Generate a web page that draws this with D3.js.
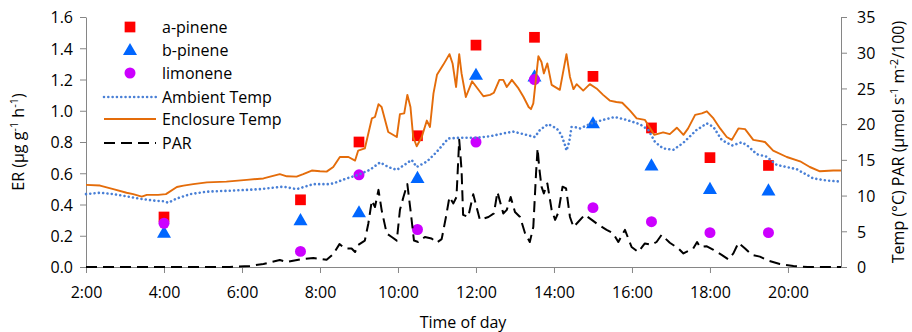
<!DOCTYPE html>
<html>
<head>
<meta charset="utf-8">
<style>
body { margin: 0; background: #fff; }
svg text { font-family: "Open Sans", sans-serif; font-size: 16px; fill: #000; }
</style>
</head>
<body>
<svg width="912" height="332"></svg>
<script src="https://d3js.org/d3.v7.min.js"></script>
<script>
// sampling times (hours) and emission rates
var sampleHours = [4, 7.5, 9, 10.5, 12, 13.5, 15, 16.5, 18, 19.5];
var aPinene  = [0.32, 0.43, 0.80, 0.84, 1.42, 1.47, 1.22, 0.89, 0.70, 0.65];
var bPinene  = [0.22, 0.30, 0.35, 0.57, 1.23, 1.22, 0.92, 0.65, 0.50, 0.49];
var limonene = [0.28, 0.10, 0.59, 0.24, 0.80, 1.20, 0.38, 0.29, 0.22, 0.22];

// ambient temp (°C)
var ambHours = [2.0,2.36,2.7,3.04,3.38,3.73,3.98,4.11,4.33,4.67,5.1,5.78,6.46,7.06,7.4,7.83,8.21,8.34,8.68,8.98,9.28,9.54,9.75,9.97,10.22,10.35,10.48,10.74,10.99,11.29,11.59,12.02,12.36,12.7,12.96,13.22,13.51,13.64,13.85,14.07,14.19,14.28,14.32,14.39,14.45,14.53,14.67,15.0,15.26,15.56,15.86,16.2,16.42,16.59,16.8,17.06,17.32,17.66,17.92,18.09,18.3,18.56,18.81,18.94,19.2,19.45,19.71,20.22,20.65,21.0,21.36];
var ambTemp  = [10.2,10.4,10.2,9.9,9.55,9.3,9.2,9.0,9.6,10.2,10.55,10.7,10.9,11.25,10.9,11.6,11.6,11.7,12.4,12.9,13.6,14.65,14.0,13.6,14.5,15.0,14.0,14.75,16.1,18.0,18.1,18.1,18.3,18.7,18.95,18.6,18.2,19.2,20.0,19.4,18.5,17.1,16.3,17.5,19.6,19.6,19.4,20.2,20.6,21.0,20.6,20.0,19.2,17.5,16.6,16.4,17.4,19.2,20.1,19.6,17.8,17.0,17.45,17.1,15.8,15.45,14.3,13.7,12.4,12.1,11.95];

// enclosure temp (°C)
var encHours = [2.0,2.36,2.7,3.04,3.21,3.43,3.56,3.85,4.05,4.33,4.5,4.75,5.1,5.6,6.12,6.55,6.97,7.15,7.4,7.57,7.79,8.0,8.17,8.34,8.51,8.73,8.9,8.98,9.15,9.33,9.41,9.5,9.58,9.75,9.97,10.05,10.16,10.24,10.32,10.39,10.48,10.61,10.74,10.82,10.91,11.0,11.16,11.32,11.4,11.49,11.57,11.63,11.74,11.9,12.19,12.36,12.46,12.6,12.7,12.79,12.92,13.09,13.22,13.35,13.41,13.47,13.6,13.68,13.74,13.83,13.94,14.15,14.32,14.41,14.5,14.58,14.75,14.92,15.09,15.26,15.43,15.6,15.75,15.95,16.12,16.33,16.57,16.8,16.97,17.15,17.32,17.44,17.62,17.79,17.92,18.09,18.26,18.43,18.56,18.73,18.9,19.11,19.41,19.62,19.97,20.31,20.56,20.82,21.16,21.36];
var encTemp  = [11.5,11.4,10.9,10.4,10.2,9.85,10.1,10.1,10.2,11.2,11.4,11.6,11.85,11.95,12.2,12.4,13.0,12.7,12.65,13.0,13.5,13.4,13.35,14.0,15.4,15.4,14.9,16.3,16.6,20.8,21.0,22.8,22.4,18.9,18.2,21.4,21.5,24.1,22.4,18.2,16.9,18.2,20.5,19.6,24.3,26.9,28.3,29.8,28.5,25.2,29.8,27.1,23.8,26.0,23.9,24.1,24.4,26.2,26.2,25.2,26.2,25.0,23.8,22.4,22.1,22.9,29.5,28.7,27.1,28.5,25.5,24.8,29.8,26.6,24.9,25.6,24.7,25.6,25.0,24.1,23.3,23.1,23.0,21.9,20.8,20.6,18.5,18.85,18.6,19.5,18.5,19.4,21.3,21.5,21.8,20.8,19.4,18.2,17.8,19.4,19.3,17.8,17.5,16.3,15.4,14.8,14.0,13.4,13.5,13.5];

// PAR (µmol s-1 m-2 / 100)
var parHours = [2.0,5.69,6.2,6.55,6.97,7.15,7.49,7.83,8.17,8.34,8.5,8.64,8.81,8.9,8.98,9.15,9.24,9.33,9.41,9.5,9.58,9.71,9.84,9.97,10.05,10.14,10.24,10.32,10.41,10.52,10.69,10.86,10.99,11.12,11.23,11.32,11.42,11.5,11.57,11.63,11.67,11.8,11.93,12.1,12.32,12.46,12.55,12.7,12.79,12.89,13.0,13.13,13.26,13.38,13.47,13.54,13.58,13.62,13.68,13.74,13.83,13.94,14.03,14.11,14.22,14.31,14.41,14.5,14.62,14.79,14.97,15.14,15.35,15.52,15.65,15.82,15.99,16.16,16.33,16.5,16.63,16.76,16.97,17.19,17.32,17.57,17.67,17.74,17.92,18.09,18.3,18.47,18.6,18.73,18.9,19.07,19.28,19.49,19.79,20.14,20.5,21.36];
var parVals  = [0,0,0.14,0.42,0.98,0.7,1.07,1.25,1.0,1.8,3.2,2.6,2.6,2.1,3.1,3.7,6.1,9.3,8.4,10.8,8.0,4.7,4.2,3.7,8.0,9.8,11.6,8.0,3.7,3.5,4.2,4.0,3.4,3.9,7.0,9.8,8.9,9.8,17.8,13.6,7.3,7.0,10.2,6.6,7.0,7.5,10.5,7.5,8.0,9.8,7.7,7.0,4.7,3.5,5.6,13.1,16.6,14.0,11.25,10.3,11.7,8.0,6.6,7.6,11.25,11.0,7.0,5.6,6.3,7.3,6.6,5.9,5.2,4.7,3.5,5.2,2.8,2.1,3.3,3.1,3.5,4.5,3.4,2.6,1.9,2.6,3.5,2.8,2.9,2.4,1.7,1.07,1.9,3.4,2.6,1.7,1.45,0.9,0.42,0.14,0,0];

var xTicks = [2, 4, 6, 8, 10, 12, 14, 16, 18, 20];
var erTicks = [0, 0.2, 0.4, 0.6, 0.8, 1.0, 1.2, 1.4, 1.6];
var tempTicks = [0, 5, 10, 15, 20, 25, 30, 35];

var svg = d3.select('svg');
var plotL = 86, plotR = 841, plotT = 17, plotB = 267;
var axisColor = '#868686';

var x = d3.scaleLinear().domain([2, 21.36]).range([plotL, plotR]);
var yL = d3.scaleLinear().domain([0, 1.6]).range([plotB, plotT]);
var yR = d3.scaleLinear().domain([0, 35]).range([plotB, plotT]);

// axes
var xAxis = svg.append('g').attr('transform', 'translate(0,' + plotB + ')')
  .call(d3.axisBottom(x).tickValues(xTicks).tickSize(6).tickSizeOuter(0)
    .tickFormat(function(d) { return d + ':00'; }));
var lAxis = svg.append('g').attr('transform', 'translate(' + plotL + ',0)')
  .call(d3.axisLeft(yL).tickValues(erTicks).tickSize(6).tickSizeOuter(0)
    .tickFormat(d3.format('.1f')));
var rAxis = svg.append('g').attr('transform', 'translate(' + plotR + ',0)')
  .call(d3.axisRight(yR).tickValues(tempTicks).tickSize(6).tickSizeOuter(0));

[xAxis, lAxis, rAxis].forEach(function(g) {
  g.attr('font-size', null).attr('font-family', null);
  g.select('.domain').attr('stroke', axisColor);
  g.selectAll('.tick line').attr('stroke', axisColor);
  g.selectAll('text').attr('fill', '#000');
});
xAxis.selectAll('text').attr('dy', null).attr('y', 31);
lAxis.selectAll('text').attr('x', -13).attr('dy', '0.36em');
rAxis.selectAll('text').attr('x', 16).attr('dy', '0.36em');

// markers
var markerData = [
  { name: 'a-pinene', vals: aPinene, color: '#ff0000', sym: d3.symbolSquare, size: 115 },
  { name: 'b-pinene', vals: bPinene, color: '#0066ff', sym: d3.symbolTriangle, size: 85 },
  { name: 'limonene', vals: limonene, color: '#cc00ff', sym: d3.symbolCircle, size: 95 }
];
markerData.forEach(function(m) {
  svg.append('g').selectAll('path')
    .data(m.vals)
    .enter().append('path')
    .attr('d', d3.symbol().type(m.sym).size(m.size))
    .attr('transform', function(d, i) {
      var dy = m.sym === d3.symbolTriangle ? 1 : 0;
      return 'translate(' + x(sampleHours[i]) + ',' + (yL(d) + dy) + ')';
    })
    .attr('fill', m.color);
});

// lines on secondary axis
var lineData = [
  { name: 'Ambient Temp', hours: ambHours, vals: ambTemp, color: '#4a80d6', width: 2.6, dash: '0.01,4.3', cap: 'round' },
  { name: 'Enclosure Temp', hours: encHours, vals: encTemp, color: '#e46c0a', width: 1.9, dash: null, cap: 'butt' },
  { name: 'PAR', hours: parHours, vals: parVals, color: '#000', width: 2, dash: '11,6', cap: 'butt' }
];
lineData.forEach(function(l) {
  var line = d3.line()
    .x(function(d, i) { return x(l.hours[i]); })
    .y(function(d) { return yR(d); });
  svg.append('path')
    .attr('d', line(l.vals))
    .attr('fill', 'none')
    .attr('stroke', l.color)
    .attr('stroke-width', l.width)
    .attr('stroke-dasharray', l.dash)
    .attr('stroke-linecap', l.cap)
    .attr('stroke-linejoin', 'round');
});

// legend
var legY = [27, 50, 73, 97, 119, 143];
markerData.forEach(function(m, i) {
  svg.append('path')
    .attr('d', d3.symbol().type(m.sym).size(m.size))
    .attr('transform', 'translate(130,' + (legY[i] + (m.sym === d3.symbolTriangle ? 1 : 0)) + ')')
    .attr('fill', m.color);
  svg.append('text').attr('x', 162).attr('y', legY[i]).attr('dy', '0.36em').text(m.name);
});
lineData.forEach(function(l, i) {
  var yy = legY[i + 3];
  svg.append('line')
    .attr('x1', 104).attr('x2', 156).attr('y1', yy).attr('y2', yy)
    .attr('stroke', l.color)
    .attr('stroke-width', l.width)
    .attr('stroke-dasharray', l.dash)
    .attr('stroke-linecap', l.cap);
  svg.append('text').attr('x', 162).attr('y', yy).attr('dy', '0.36em').text(l.name);
});

// axis titles
svg.append('text').attr('x', 463).attr('y', 328).attr('text-anchor', 'middle').text('Time of day');

var lt = svg.append('text').attr('text-anchor', 'middle')
  .attr('transform', 'translate(24,' + ((plotT + plotB) / 2) + ') rotate(-90)');
lt.append('tspan').text('ER (µg g');
lt.append('tspan').attr('dy', -6).attr('font-size', 11).text('-1');
lt.append('tspan').attr('dy', 6).text(' h');
lt.append('tspan').attr('dy', -6).attr('font-size', 11).text('-1');
lt.append('tspan').attr('dy', 6).text(')');

var rt = svg.append('text').attr('text-anchor', 'middle')
  .attr('transform', 'translate(904,' + ((plotT + plotB) / 2) + ') rotate(-90)');
rt.append('tspan').text('Temp (°C) PAR (µmol s');
rt.append('tspan').attr('dy', -6).attr('font-size', 11).text('-1');
rt.append('tspan').attr('dy', 6).text(' m');
rt.append('tspan').attr('dy', -6).attr('font-size', 11).text('-2');
rt.append('tspan').attr('dy', 6).text('/100)');
</script>
</body>
</html>
